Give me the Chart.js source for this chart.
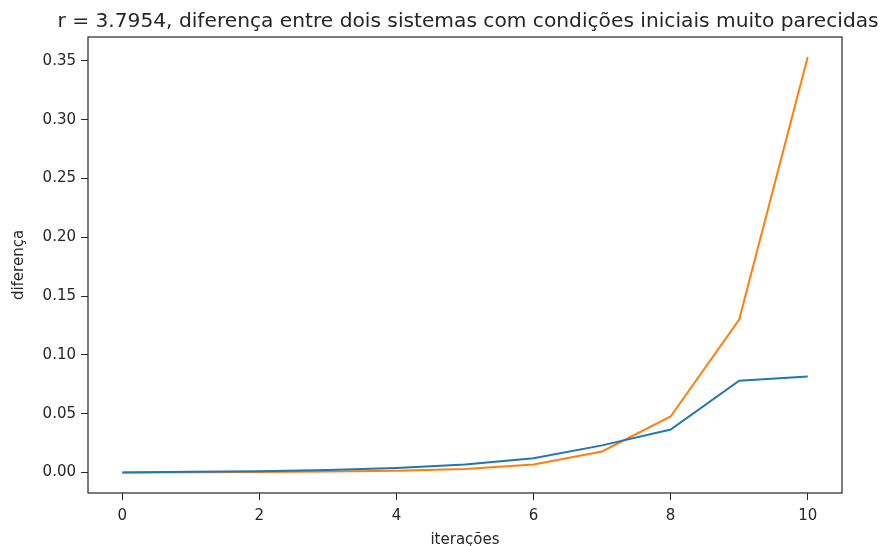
<!DOCTYPE html>
<html>
<head>
<meta charset="utf-8">
<script src="https://cdn.jsdelivr.net/npm/chart.js@4/dist/chart.umd.min.js"></script>
<style>
    html, body { margin: 0; padding: 0; background: #fff; }
    #caixa { width: 888px; height: 546px; }
</style>
</head>
<body>
<div id="caixa"><canvas id="grafico" width="888" height="546"></canvas></div>
<script>
const iteracoes = [0, 1, 2, 3, 4, 5, 6, 7, 8, 9, 10];
const diferencaA = [0, 0.0005, 0.001, 0.002, 0.0038, 0.0068, 0.012, 0.023, 0.0365, 0.078, 0.0816];
const diferencaB = [0, 0.0002, 0.0004, 0.0008, 0.0015, 0.003, 0.0068, 0.0178, 0.0476, 0.130, 0.3534];
const ticksX = [0, 2, 4, 6, 8, 10];
const ticksY = [0, 0.05, 0.10, 0.15, 0.20, 0.25, 0.30, 0.35];
const titulo = "r = 3.7954, diferença entre dois sistemas com condições iniciais muito parecidas";

const corTexto = "#262626";
const fonteTicks = { family: "DejaVu Sans", size: 15 };

// moldura do eixo e título acima da área do gráfico
const molduraETitulo = {
    id: "molduraETitulo",
    afterDatasetsDraw(chart) {
        const { ctx, chartArea: a } = chart;
        ctx.save();
        ctx.strokeStyle = corTexto;
        ctx.lineWidth = 1.2;
        ctx.strokeRect(a.left, a.top, a.right - a.left, a.bottom - a.top);
        ctx.fillStyle = corTexto;
        ctx.font = '20.2px "DejaVu Sans"';
        ctx.textAlign = "center";
        ctx.textBaseline = "alphabetic";
        ctx.fillText(titulo, (a.left + a.right) / 2 + 3, 27);
        ctx.restore();
    }
};

new Chart(document.getElementById("grafico"), {
    type: "line",
    data: {
        labels: iteracoes,
        datasets: [
            {
                data: iteracoes.map((x, i) => ({ x, y: diferencaA[i] })),
                borderColor: "#1f77b4",
                borderWidth: 2,
                pointRadius: 0,
                tension: 0
            },
            {
                data: iteracoes.map((x, i) => ({ x, y: diferencaB[i] })),
                borderColor: "#ff7f0e",
                borderWidth: 2,
                pointRadius: 0,
                tension: 0
            }
        ]
    },
    options: {
        responsive: false,
        animation: false,
        layout: { padding: { top: 37, right: 46, left: 0, bottom: 0 } },
        plugins: { legend: { display: false }, tooltip: { enabled: false } },
        scales: {
            x: {
                type: "linear",
                min: -0.5,
                max: 10.5,
                afterBuildTicks: escala => { escala.ticks = ticksX.map(value => ({ value })); },
                afterFit: escala => { escala.height = 53; },
                grid: { drawOnChartArea: false, drawTicks: true, tickLength: 7, color: corTexto },
                border: { display: false },
                ticks: { color: corTexto, font: fonteTicks, padding: 7, maxRotation: 0 },
                title: { display: true, text: "iterações", color: corTexto, font: fonteTicks, padding: { top: 0, bottom: -3 } }
            },
            y: {
                min: -0.0175,
                max: 0.3704,
                afterBuildTicks: escala => { escala.ticks = ticksY.map(value => ({ value })); },
                afterFit: escala => { escala.width = 88; },
                grid: { drawOnChartArea: false, drawTicks: true, tickLength: 7, color: corTexto },
                border: { display: false },
                ticks: { color: corTexto, font: fonteTicks, padding: 5, callback: v => v.toFixed(2) },
                title: { display: true, text: "diferença", color: corTexto, font: fonteTicks, padding: { top: 10, bottom: 0 } }
            }
        }
    },
    plugins: [molduraETitulo]
});
</script>
</body>
</html>
